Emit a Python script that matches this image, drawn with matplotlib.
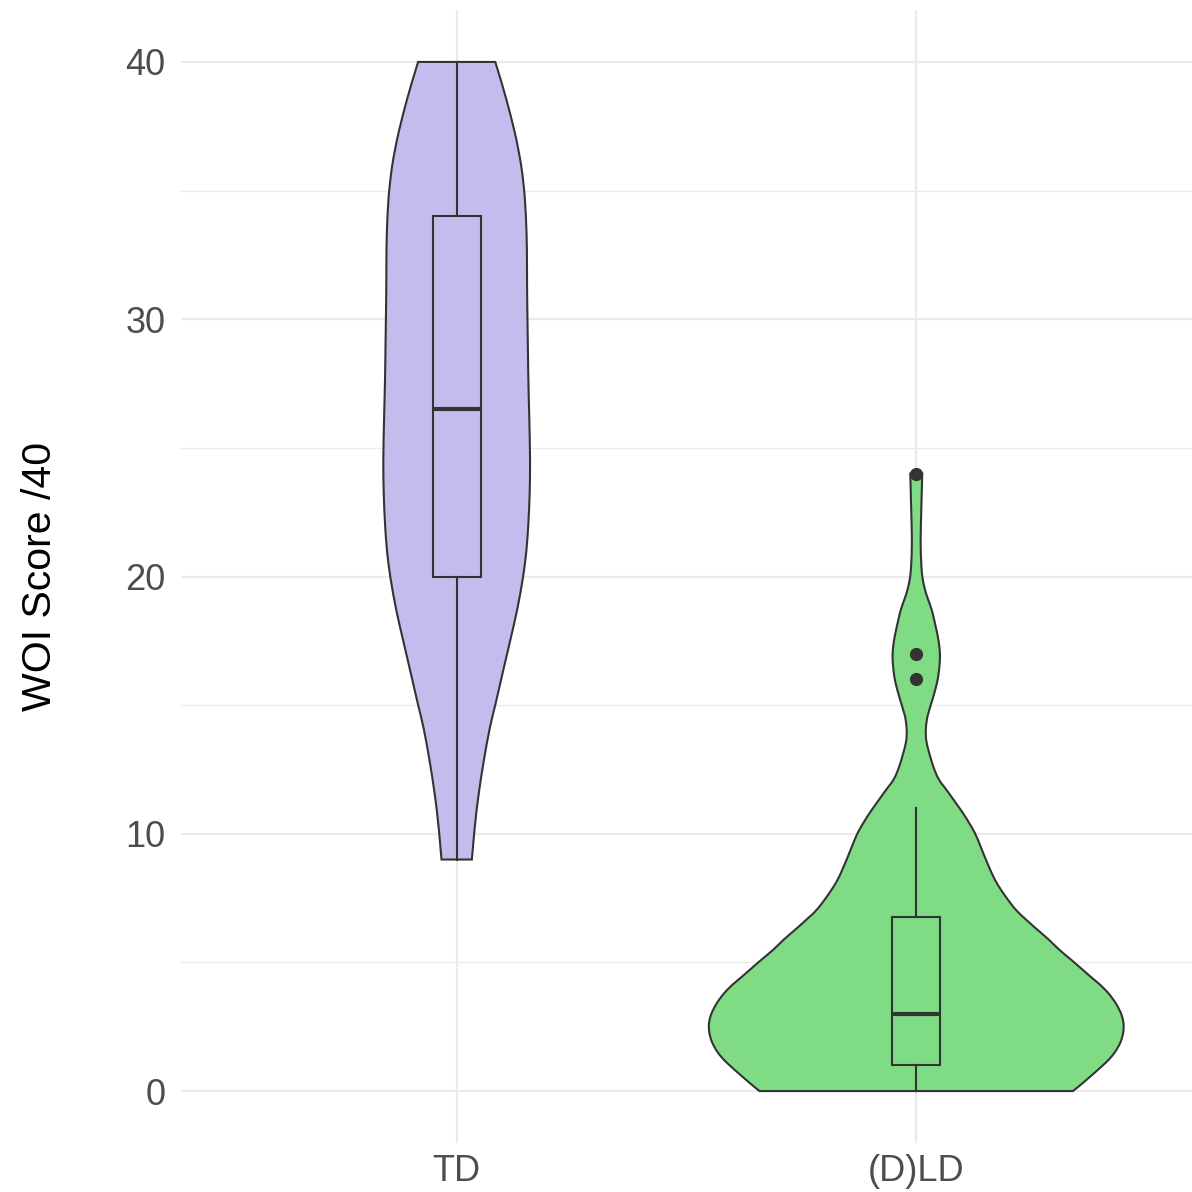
import matplotlib
matplotlib.use("Agg")
import matplotlib.pyplot as plt
from matplotlib.path import Path
from matplotlib.patches import PathPatch
import numpy as np


groups = ["TD", "(D)LD"]
fills = ["#C3BDED", "#7FDC85"]

# violin outlines: score level -> half width (x units)
td_levels = [9.0, 10.3, 11.6, 12.87, 14.15, 15.0, 16.1, 17.4, 18.7, 20.0,
             21.0, 22.0, 23.2, 24.5, 26.2, 27.5, 28.8, 30.0, 31.4, 32.7, 34.0,
             35.3, 36.6, 37.9, 39.2, 40.0]
td_half = [0.033, 0.039, 0.048, 0.059, 0.072, 0.084, 0.098, 0.115, 0.132, 0.145,
           0.152, 0.156, 0.159, 0.160, 0.158, 0.156, 0.155, 0.154, 0.153, 0.153, 0.151,
           0.146, 0.135, 0.118, 0.098, 0.084]

dld_levels = [0.0, 0.2, 0.43, 0.93, 1.3, 1.71, 2.1, 2.49, 2.8, 3.15, 3.6, 4.05, 4.4,
              5.05, 5.5, 5.87, 6.4, 6.65, 7.0, 7.42, 7.8, 8.2, 8.6, 9.1, 9.6, 10.03,
              10.4, 10.8, 11.1, 11.43, 11.8, 12.09, 12.5, 12.9, 13.4, 13.8, 14.4, 14.8,
              15.2, 15.7, 16.1, 16.6, 17.0, 17.5, 18.0, 18.4, 18.7, 19.0, 19.35, 19.7,
              20.0, 20.4, 21.3, 22.6, 24.0]
dld_half = [0.341, 0.355, 0.370, 0.402, 0.424, 0.440, 0.449, 0.452, 0.450, 0.443, 0.428,
            0.406, 0.382, 0.341, 0.310, 0.290, 0.255, 0.240, 0.218, 0.200, 0.185, 0.171,
            0.161, 0.149, 0.138, 0.128, 0.116, 0.102, 0.090, 0.077, 0.062, 0.049, 0.039,
            0.032, 0.024, 0.020, 0.022, 0.028, 0.035, 0.043, 0.048, 0.051, 0.052, 0.049,
            0.043, 0.038, 0.034, 0.028, 0.021, 0.016, 0.013, 0.011, 0.009, 0.011, 0.013]

# boxplot summaries
q1 = [20.0, 1.0]
medians = [26.5, 3.0]
q3 = [34.0, 6.75]
whisk_lo = [9.0, 0.0]
whisk_hi = [40.0, 11.0]
outliers = [[], [24.0, 17.0, 16.0]]

ylabel = "WOI Score /40"
yticks = [0, 10, 20, 30, 40]


def smooth_side(points, verts, codes):
    # quadratic bezier chain: read points act as control points
    for k in range(1, len(points) - 1):
        nxt = points[k + 1]
        if k + 1 < len(points) - 1:
            nxt = ((points[k][0] + nxt[0]) / 2, (points[k][1] + nxt[1]) / 2)
        verts.extend([points[k], nxt])
        codes.extend([Path.CURVE3, Path.CURVE3])


def violin_patch(pos, levels, half, color):
    lv = np.array(levels)
    hw = np.array(half)
    right = list(zip(pos + hw, lv))
    left = list(zip(pos - hw, lv))[::-1]

    verts = [right[0]]
    codes = [Path.MOVETO]
    smooth_side(right, verts, codes)
    verts.append(left[0])
    codes.append(Path.LINETO)
    smooth_side(left, verts, codes)
    verts.append(right[0])
    codes.append(Path.CLOSEPOLY)

    return PathPatch(Path(verts, codes), facecolor=color, edgecolor="#333333",
                     linewidth=1.5, zorder=2)


def main():
    plt.rcParams["font.family"] = ["Liberation Sans", "DejaVu Sans"]

    fig = plt.figure(figsize=(11.92, 11.92), dpi=100)
    ax = fig.add_axes([0.1518, 0.0415, 0.8482, 0.9497])

    edge = "#333333"
    outlines = [(td_levels, td_half), (dld_levels, dld_half)]

    for i, (levels, half) in enumerate(outlines):
        ax.add_patch(violin_patch(i + 1, levels, half, fills[i]))

    stats = []
    for i in range(len(groups)):
        stats.append({
            "med": medians[i], "q1": q1[i], "q3": q3[i],
            "whislo": whisk_lo[i], "whishi": whisk_hi[i], "fliers": outliers[i],
        })

    bp = ax.bxp(stats, positions=[1, 2], widths=0.104, showcaps=False,
                patch_artist=True, manage_ticks=False,
                boxprops=dict(edgecolor=edge, linewidth=1.5),
                whiskerprops=dict(color=edge, linewidth=1.5),
                medianprops=dict(color=edge, linewidth=3.0),
                flierprops=dict(marker="o", markerfacecolor=edge, markeredgecolor=edge,
                                markersize=8.5))
    for patch, color in zip(bp["boxes"], fills):
        patch.set_facecolor(color)
    for artist in bp["boxes"] + bp["whiskers"] + bp["medians"] + bp["fliers"]:
        artist.set_zorder(3)

    ax.set_xlim(0.4, 2.6)
    ax.set_ylim(-2, 42)
    ax.set_xticks([1, 2])
    ax.set_xticklabels(groups)
    ax.set_yticks(yticks)
    ax.set_yticks([5, 15, 25, 35], minor=True)

    ax.grid(True, which="major", color="#EBEBEB", linewidth=1.6, zorder=0)
    ax.grid(True, which="minor", axis="y", color="#EBEBEB", linewidth=0.9, zorder=0)
    ax.set_axisbelow(True)

    for spine in ax.spines.values():
        spine.set_visible(False)

    ax.tick_params(axis="both", which="both", length=0, labelsize=26, labelcolor="#4D4D4D")
    ax.tick_params(axis="y", pad=11)
    ax.tick_params(axis="x", pad=8)
    ax.set_ylabel(ylabel, fontsize=29.5, color="black", labelpad=48)

    fig.savefig("out.png", dpi=100)
    plt.close(fig)


if __name__ == "__main__":
    main()
